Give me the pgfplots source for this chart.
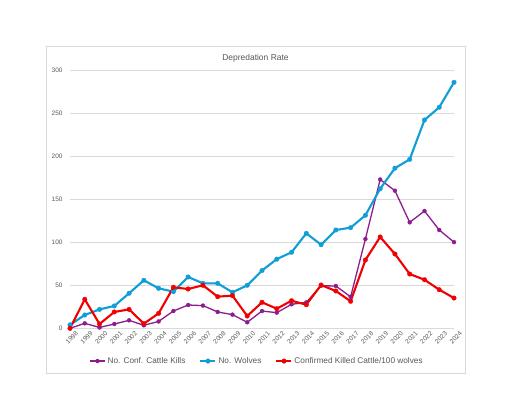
\documentclass[border=0pt]{standalone}
\usepackage{pgfplots}
\pgfplotsset{compat=1.18}
\usepackage{fontspec}
\setmainfont{Liberation Sans}
\definecolor{wblue}{HTML}{0F9ED5}
\definecolor{cpurple}{HTML}{8B1D8E}
\definecolor{rred}{HTML}{F00000}
\definecolor{gridc}{HTML}{D9D9D9}
\definecolor{txt}{HTML}{595959}
\pgfplotstableread{
year kills wolves rate
1998 0 4 0
1999 5.8 15.5 33.7
2000 1 22 5
2001 5 26 19
2002 9.3 40.7 22
2003 3.5 55.8 5.4
2004 8 46.5 17.4
2005 20.1 42.6 47.7
2006 27.1 59.7 45.7
2007 26.4 52.3 50
2008 19 52.3 36.8
2009 15.9 41.8 38
2010 7 50 14.3
2011 20.1 67.2 30.2
2012 18.2 80.4 22.8
2013 27.9 88.4 32.1
2014 30.2 110.4 27.4
2015 49.5 97.2 50.3
2016 49.2 114.3 43.4
2017 36.6 117 31.4
2018 103.8 131.4 79.4
2019 173 162.3 106.2
2020 160 186.2 86.4
2021 123.2 196.5 63.1
2022 136.4 242.2 56.5
2023 114.3 257 44.9
2024 100.2 286 35.2
}\datatable
\begin{document}
\begin{tikzpicture}[x=1bp,y=1bp]
\path[fill=white] (0,0) rectangle (512,396);
\draw[gridc, line width=0.8bp] (46,23) rectangle (465,350);
\begin{axis}[
  at={(70bp,67.7bp)}, anchor=south west,
  scale only axis, width=384bp, height=258bp,
  xmin=1998, xmax=2024, ymin=0, ymax=300,
  axis line style={draw=none},
  major tick length=0pt,
  ymajorgrids, grid style={gridc, line width=0.7bp},
  ytick={0,50,...,300},
  xtick={1998,1999,...,2024},
  /pgf/number format/1000 sep={},
  /pgf/number format/assume math mode=true,
  tick label style={font=\fontsize{6.5}{7.5}\selectfont, text=txt},
  yticklabel style={xshift=-4bp},
  xticklabel style={rotate=45, anchor=north east, xshift=3bp, yshift=-4.5bp, inner sep=1pt},
  title={Depredation Rate},
  title style={at={(0.483,1)}, anchor=center, yshift=6bp, font=\fontsize{8.5}{10}\selectfont, text=txt},
  legend columns=3,
  legend style={at={(0.487,-0.127)}, anchor=center, draw=none, fill=none,
    font=\fontsize{8.3}{10}\selectfont, text=txt,
    /tikz/every even column/.append style={column sep=12bp},
    inner sep=0pt},
  legend cell align=left,
  legend image code/.code={\draw[mark repeat=2,mark phase=2] plot coordinates {(0bp,0bp)(7.5bp,0bp)(15bp,0bp)};},
]
\addplot[cpurple, line width=1.3bp, line join=round, mark=*, mark size=2bp, mark options={line width=0.3bp}] table[x=year,y=kills] {\datatable};
\addlegendentry{No. Conf. Cattle Kills}
\addplot[wblue, line width=2.1bp, line join=round, mark=*, mark size=2.3bp, mark options={line width=0.3bp}] table[x=year,y=wolves] {\datatable};
\addlegendentry{No. Wolves}
\addplot[rred, line width=2.1bp, line join=round, mark=*, mark size=2.3bp, mark options={line width=0.3bp}] table[x=year,y=rate] {\datatable};
\addlegendentry{Confirmed Killed Cattle/100 wolves}
\end{axis}
\end{tikzpicture}
\end{document}
